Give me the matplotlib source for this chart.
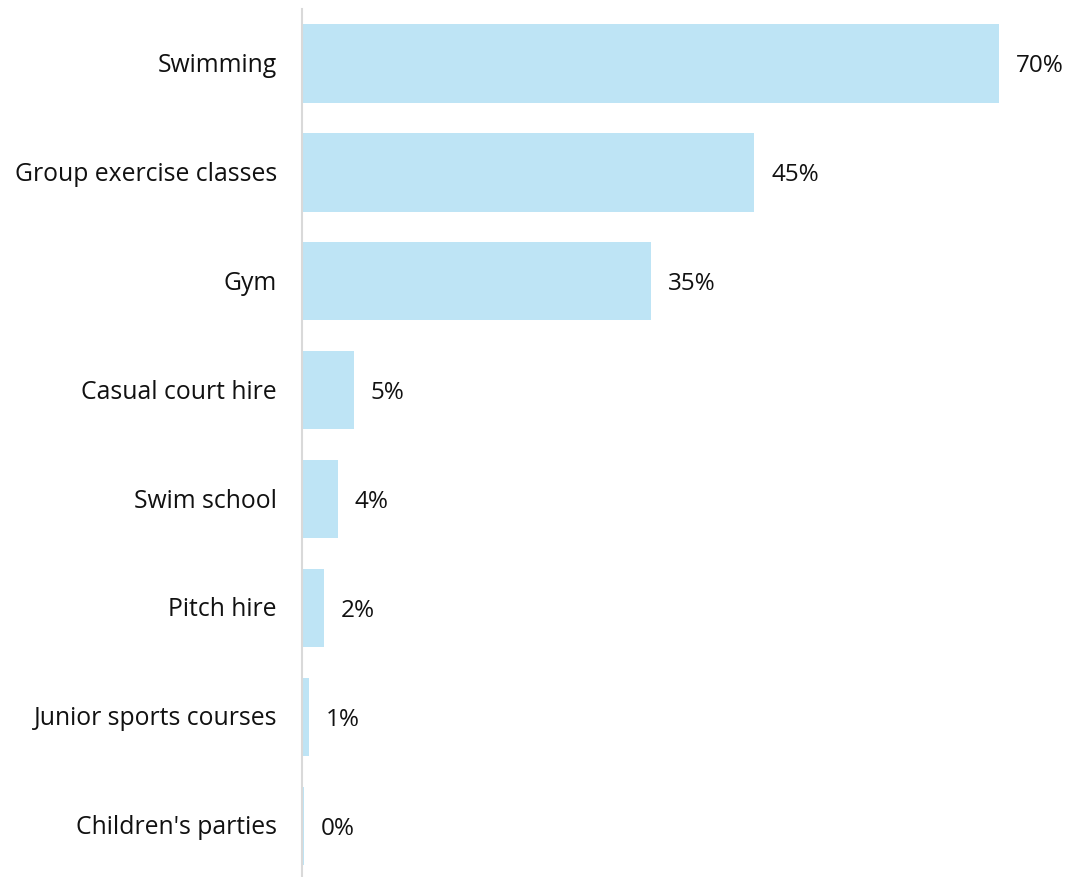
import matplotlib
matplotlib.use("Agg")
import matplotlib.pyplot as plt
import matplotlib.transforms as mtransforms

categories = ["Swimming", "Group exercise classes", "Gym", "Casual court hire",
              "Swim school", "Pitch hire", "Junior sports courses", "Children's parties"]
values = [70, 45.4, 35, 5.2, 3.6, 2.2, 0.7, 0.2]
value_labels = ["70%", "45%", "35%", "5%", "4%", "2%", "1%", "0%"]

plt.rcParams['font.family'] = ['Open Sans', 'DejaVu Sans']

fig = plt.figure(figsize=(10.70, 8.78), dpi=100)
ax = fig.add_axes([302/1070, 0, 1 - 302/1070, 1 - 10/878])

ypos = list(range(len(categories)))
ax.barh(ypos, values, height=0.72, color="#BEE4F5", zorder=2)
ax.set_xlim(0, 768/9.96)
ax.set_ylim(7.47, -0.5)
ax.set_yticks(ypos)
ax.set_yticklabels(categories, fontsize=17.8, color="#111111")
ax.tick_params(axis='y', length=0, pad=18)
shift = mtransforms.ScaledTranslation(0, 2/100, fig.dpi_scale_trans)
for t in ax.get_yticklabels():
    t.set_transform(t.get_transform() + shift)
ax.set_xticks([])
for s in ["top", "right", "bottom"]:
    ax.spines[s].set_visible(False)
ax.spines["left"].set_color("#d9d9d9")
ax.spines["left"].set_linewidth(1.5)

for y, v, lab in zip(ypos, values, value_labels):
    ax.annotate(lab, xy=(v, y), xytext=(17, -2), textcoords="offset pixels",
                ha="left", va="center", fontsize=17.5, color="#111111")

fig.savefig("out.png", dpi=100)
